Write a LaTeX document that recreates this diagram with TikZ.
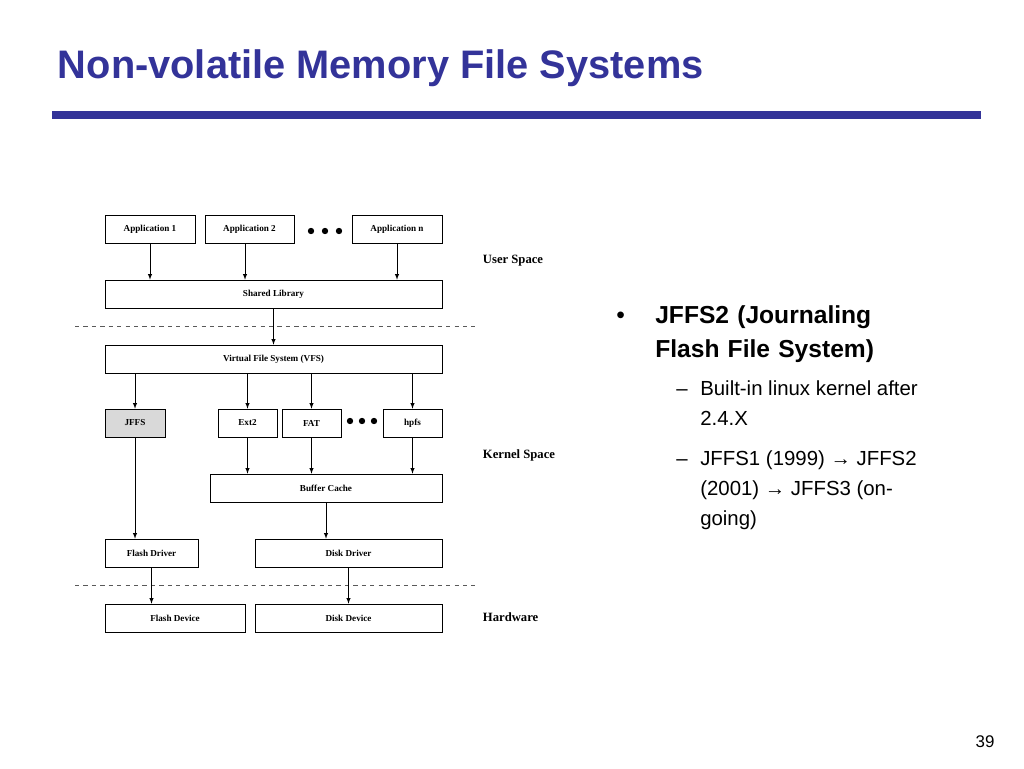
\documentclass[tikz,border=0pt]{standalone}
\usepackage{fontspec}
\setmainfont{Liberation Serif}
\newfontfamily\arialfont{Liberation Sans}
\usetikzlibrary{positioning,calc}
\definecolor{titleblue}{HTML}{333399}
\definecolor{jffsgray}{HTML}{D9D9D9}
\begin{document}
\begin{tikzpicture}[x=0.25mm,y=-0.25mm,
    blk/.style={draw, thin, inner sep=0pt, minimum height=7mm, font=\fontsize{6.5}{8}\selectfont\bfseries},
    arr/.style={->, >=latex, thin},
    sep/.style={draw, dashed, thin, gray!70!black},
    space/.style={anchor=west, font=\fontsize{9}{10}\selectfont\bfseries},
    dot/.style={fill, circle, inner sep=1.6pt},
    bul/.style={anchor=north west, inner sep=0pt, align=left, font=\arialfont\fontsize{17.5}{24}\selectfont},
    sub/.style={anchor=north west, inner sep=0pt, align=left, font=\arialfont\fontsize{14.5}{21}\selectfont}]
  \useasboundingbox (0,0) rectangle (1024,768);

  % Titel und Balken
  \node[anchor=west, text=titleblue, font=\arialfont\fontsize{28.3}{32}\selectfont\bfseries] (title) at (53,68) {Non-volatile Memory File Systems};
  \fill[titleblue] (52,111) rectangle (981,119);

  % Anwendungen
  \node[blk, minimum width=22.5mm] (app1) at (150,229.5) {Application 1};
  \node[blk, minimum width=22.25mm] (app2) at (249.5,229.5) {Application 2};
  \node[blk, minimum width=22.5mm] (appn) at (397,229.5) {Application n};
  \node[dot] (d1) at (311,231) {};
  \node[dot] (d2) at (325,231) {};
  \node[dot] (d3) at (339,231) {};
  \node[blk, minimum width=84.25mm] (lib) at (273.5,294) {Shared Library};

  \draw[sep] (75,326) -- (475,326);

  % Kernel
  \node[blk, minimum width=84.25mm] (vfs) at (273.5,359) {Virtual File System (VFS)};
  \node[blk, minimum width=15mm, fill=jffsgray] (jffs) at (135,423) {JFFS};
  \node[blk, minimum width=14.75mm] (ext2) at (247.5,423) {Ext2};
  \node[blk, minimum width=14.75mm] (fat) at (311.5,423) {FAT};
  \node[blk, minimum width=14.75mm] (hpfs) at (412.5,423) {hpfs};
  \node[dot] (d4) at (350,421) {};
  \node[dot] (d5) at (362,421) {};
  \node[dot] (d6) at (374,421) {};
  \node[blk, minimum width=58mm] (cache) at (326,488) {Buffer Cache};
  \node[blk, minimum width=23.25mm] (fdrv) at (151.5,553) {Flash Driver};
  \node[blk, minimum width=46.75mm] (ddrv) at (348.5,553) {Disk Driver};

  \draw[sep] (75,585) -- (475,585);

  % Hardware
  \node[blk, minimum width=35mm] (fdev) at (175,618) {Flash Device};
  \node[blk, minimum width=46.75mm] (ddev) at (348.5,618) {Disk Device};

  \node[space] (us) at (478,261) {User Space};
  \node[space] (ks) at (478,455) {Kernel Space};
  \node[space] (hw) at (478,617) {Hardware};

  % Pfeile
  \draw[arr] (app1) -- (app1 |- lib.north);
  \draw[arr] (app2.south -| 245,0) -- (lib.north -| 245,0);
  \draw[arr] (appn) -- (appn |- lib.north);
  \draw[arr] (lib) -- (vfs);
  \draw[arr] (vfs.south -| jffs) -- (jffs);
  \draw[arr] (vfs.south -| ext2) -- (ext2);
  \draw[arr] (vfs.south -| fat) -- (fat);
  \draw[arr] (vfs.south -| hpfs) -- (hpfs);
  \draw[arr] (ext2) -- (ext2 |- cache.north);
  \draw[arr] (fat) -- (fat |- cache.north);
  \draw[arr] (hpfs) -- (hpfs |- cache.north);
  \draw[arr] (jffs) -- (jffs |- fdrv.north);
  \draw[arr] (cache) -- (cache |- ddrv.north);
  \draw[arr] (fdrv) -- (fdrv |- fdev.north);
  \draw[arr] (ddrv) -- (ddev);

  % Text rechts
  \node[bul] (b1) at (616,300) {\strut\textbullet};
  \node[bul, text width=65mm] (t1) at (655,300) {\strut\textbf{JFFS2 (Journaling}\\\textbf{Flash File System)}};
  \node[sub] (s1) at (676,375) {\strut–};
  \node[sub] (s1t) at (700,375) {\strut Built-in linux kernel after\\2.4.X};
  \node[sub] (s2) at (676,445) {\strut–};
  \node[sub] (s2t) at (700,445) {\strut JFFS1 (1999) → JFFS2\\(2001) → JFFS3 (on-\\going)};
  \node[font=\arialfont\fontsize{12}{14}\selectfont] (pg) at (985,742) {39};
\end{tikzpicture}
\end{document}
